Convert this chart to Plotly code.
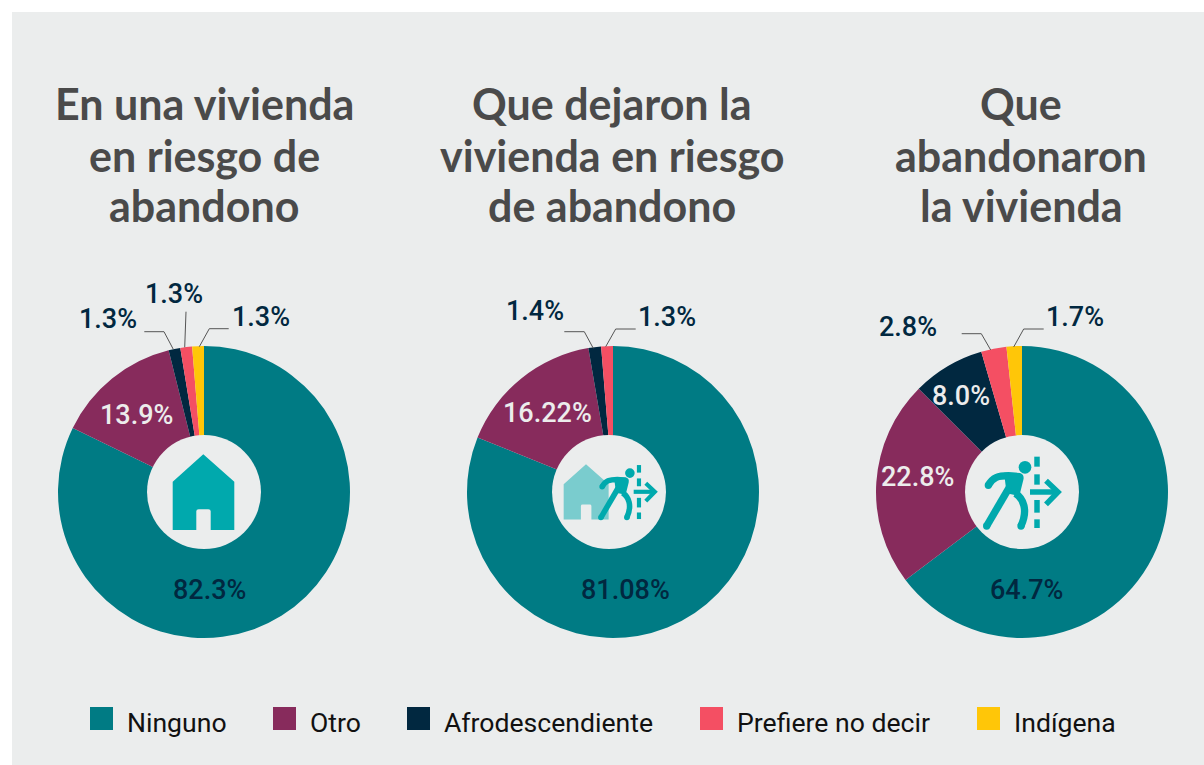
import plotly.graph_objects as go

W, H = 1204, 765
categories = ["Ninguno", "Otro", "Afrodescendiente", "Prefiere no decir", "Indígena"]
colors = ["#007b84", "#872b5c", "#012840", "#f44f63", "#ffc608"]
PANEL = "#ebeded"

values_1 = [82.3, 13.9, 1.3, 1.3, 1.3]
values_2 = [81.08, 16.22, 1.4, 1.3]
values_3 = [64.7, 22.8, 8.0, 2.8, 1.7]
labels_1 = ["82.3%", "13.9%", "1.3%", "1.3%", "1.3%"]
labels_2 = ["81.08%", "16.22%", "1.4%", "1.3%"]
labels_3 = ["64.7%", "22.8%", "8.0%", "2.8%", "1.7%"]
titles = [["En una vivienda", "en riesgo de", "abandono"],
          ["Que dejaron la", "vivienda en riesgo", "de abandono"],
          ["Que", "abandonaron", "la vivienda"]]

def X(x): return x / W
def Y(y): return 1 - y / H

fig = go.Figure()
for vals, cx in zip([values_1, values_2, values_3], [204, 613, 1022]):
    r = 146
    fig.add_trace(go.Pie(labels=categories[:len(vals)], values=vals, sort=False, direction="clockwise",
                         rotation=0, hole=0.3, textinfo="none", showlegend=False,
                         marker=dict(colors=colors[:len(vals)], line=dict(width=0)),
                         domain=dict(x=[X(cx - r), X(cx + r)], y=[Y(492 + r), Y(492 - r)])))

shapes, ann = [], []
def rect(x0, y0, x1, y1, color, layer="above"):
    shapes.append(dict(type="rect", xref="paper", yref="paper", x0=X(x0), x1=X(x1), y0=Y(y0), y1=Y(y1),
                       fillcolor=color, line=dict(width=0), layer=layer))
def circle(cx, cy, r, color):
    shapes.append(dict(type="circle", xref="paper", yref="paper", x0=X(cx - r), x1=X(cx + r),
                       y0=Y(cy + r), y1=Y(cy - r), fillcolor=color, line=dict(width=0), layer="above"))
def path(cmds, fill=None, stroke=None, width=0):
    s = ""
    for c in cmds:
        s += c[0] + " ".join(f"{X(c[i]):.5f},{Y(c[i + 1]):.5f}" for i in range(1, len(c), 2)) + " "
    shapes.append(dict(type="path", xref="paper", yref="paper", path=s.strip(),
                       fillcolor=fill or "rgba(0,0,0,0)",
                       line=dict(color=stroke or "rgba(0,0,0,0)", width=width), layer="above"))
def text(x, y, t, size, color, family, anchor="center", weight=None):
    ann.append(dict(x=X(x), y=Y(y), xref="paper", yref="paper", text=t, showarrow=False,
                    xanchor=anchor, yanchor="middle",
                    font=dict(size=size, color=color, family=family, weight=weight)))

rect(12, 12, W, H, PANEL, "below")

for cx in [204, 609, 1022]:
    circle(cx, 492, 57, PANEL)

TEAL = "#00a9ad"
def house(s, ox, oy, color):
    P = lambda x, y: (ox + s * x, oy + s * y)
    cmds = [("M",) + P(0, 0), ("L",) + P(31, 27.4), ("L",) + P(31, 75.7), ("L",) + P(7.4, 75.7),
            ("L",) + P(7.4, 57), ("Q",) + P(7.4, 55) + P(5, 55), ("L",) + P(-4.6, 55), ("Q",) + P(-7, 55) + P(-7, 57),
            ("L",) + P(-7, 75.7), ("L",) + P(-30.6, 75.7), ("L",) + P(-30.6, 27.4), ("Z",)]
    path(cmds, fill=color)

def runner(ox, oy, s, color):
    P = lambda u, v: (ox + s * u, oy + s * v)
    w = 22 * s
    c = P(495, 532)
    circle(c[0], c[1], 19 * s, color)
    # arm
    path([("M",) + P(385, 586), ("C",) + P(398, 562) + P(415, 557) + P(445, 557), ("L",) + P(478, 560)],
         stroke=color, width=w)
    # torso
    path([("M",) + P(432, 548), ("L",) + P(480, 549), ("Q",) + P(494, 553) + P(490, 570), ("L",) + P(478, 618),
          ("L",) + P(440, 610), ("Z",)], fill=color)
    # front leg
    path([("M",) + P(380, 708), ("L",) + P(448, 592)], stroke=color, width=w)
    # back leg
    path([("M",) + P(466, 610), ("C",) + P(490, 625) + P(505, 660) + P(483, 708)], stroke=color, width=w)
    for p in [(385, 586), (380, 708), (483, 708)]:
        q = P(*p)
        circle(q[0], q[1], 11 * s, color)
    # arrow
    path([("M",) + P(510, 606), ("L",) + P(590, 606)], stroke=color, width=w * 0.75)
    path([("M",) + P(558, 572), ("L",) + P(594, 606), ("L",) + P(558, 643)], stroke=color, width=w * 0.75)
    # dashes
    for a, b in [(500, 530), (553, 584), (630, 668), (688, 714)]:
        path([("M",) + P(531, a), ("L",) + P(531, b)], stroke=color, width=w * 0.75)

house(1, 203.3, 454.3, TEAL)
house(0.73, 586, 464.3, "#7accce")
runner(505, 338.9, 0.2523, TEAL)
runner(860, 290, 1 / 3, TEAL)

LEAD = "#555555"
leaders = [
    [(144.3, 331.7), (164, 331.7), (173.3, 349.3)],
    [(186, 311.7), (184.7, 347.3)],
    [(228.7, 328.7), (209.3, 328.7), (199.3, 346.7)],
    [(564.3, 331.7), (584.3, 331.7), (593.3, 348.3)],
    [(635.7, 329), (615.7, 329), (605.7, 346.7)],
    [(961.7, 333.7), (981.3, 333.7), (990.7, 350)],
    [(1043.7, 329), (1023.7, 329), (1013.7, 347)],
]
for l in leaders:
    path([("M",) + l[0]] + [("L",) + p for p in l[1:]], stroke=LEAD, width=1)

LBL = "Roboto"
DK, LT = "#012840", "#ececec"
for (x, y), t, col in zip([(209, 590), (136, 415), (108, 319), (174, 294), (261, 317)], labels_1, [DK, LT, DK, DK, DK]):
    text(x, y, t, 27, col, LBL, weight=500)
for (x, y), t, col in zip([(625, 590), (547, 413), (535, 311), (667, 317)], labels_2, [DK, LT, DK, DK]):
    text(x, y, t, 27, col, LBL, weight=500)
for (x, y), t, col in zip([(1026, 590), (917, 477), (961, 396), (908, 327), (1075, 317)], labels_3, [DK, LT, LT, DK, DK]):
    text(x, y, t, 27, col, LBL, weight=500)

for cx, lines in zip([204, 612, 1021], titles):
    for y, t in zip([105, 157, 207], lines):
        text(cx, y - 1, t, 43, "#4a4a4a", "Lato", weight=700)

swatch_x = [90, 273, 407, 700, 977]
text_x = [125, 308, 442, 735, 1012]
for sx, tx, c, col in zip(swatch_x, text_x, categories, colors):
    rect(sx, 707, sx + 23, 730, col)
    text(tx, 722, c, 26.6, "#111111", "Roboto", anchor="left")

fig.update_layout(width=W, height=H, margin=dict(l=0, r=0, t=0, b=0), paper_bgcolor="white",
                  shapes=shapes, annotations=ann, showlegend=False)
fig.write_html("out.html", config=dict(displayModeBar=False),
               post_script="document.body.style.margin='0';document.body.style.overflow='hidden';")
